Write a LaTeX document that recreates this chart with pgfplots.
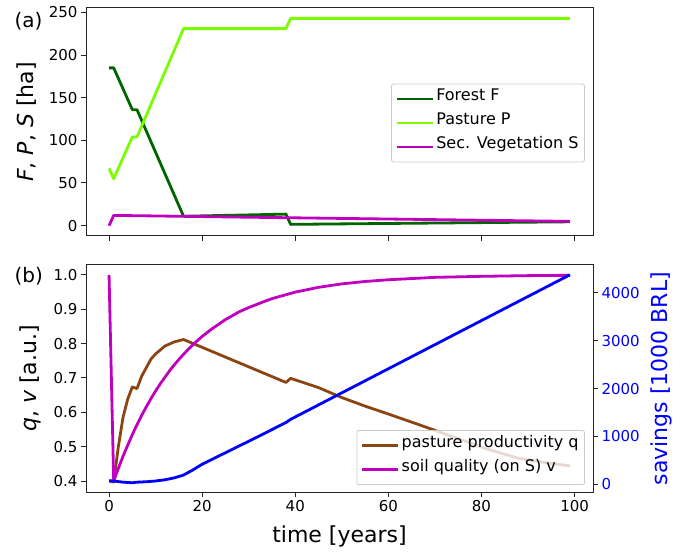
\documentclass[border=0pt]{standalone}
\usepackage{fontspec}
\setmainfont{DejaVu Sans}
\usepackage{pgfplots}
\pgfplotsset{compat=1.18}

\definecolor{forestF}{RGB}{0,100,0}
\definecolor{pastureP}{RGB}{124,252,0}
\definecolor{secveg}{RGB}{191,0,191}
\definecolor{qbrown}{RGB}{139,69,19}
\definecolor{savblue}{RGB}{0,0,255}
\definecolor{legframe}{RGB}{204,204,204}

\pgfplotsset{
  panel/.style={
    scale only axis, width=507pt,
    xmin=-4.95, xmax=103.95,
    tick align=outside, major tick length=5pt,
    axis line style={black!85, line width=1pt},
    tick style={black!85, line width=1pt},
    tick label style={font=\fontsize{15}{18}\selectfont},
    /pgf/number format/assume math mode=true,
    label style={font=\fontsize{22}{26}\selectfont},
    every axis plot/.append style={line width=2.8pt, line join=round},
    legend image code/.code={\draw[##1, line width=2.8pt] (0pt,0pt) -- (36pt,0pt);},
    legend cell align=left,
  },
  legbox/.style={
    draw=legframe, rounded corners=2pt, fill=white, fill opacity=0.8,
    text opacity=1, draw opacity=1, line width=0.8pt,
    font=\fontsize{16}{19}\selectfont,
    inner xsep=4pt, inner ysep=3pt, row sep=0pt,
    nodes={inner ysep=0pt, text height=14pt, text depth=10pt},
  },
}

\begin{document}
\begin{tikzpicture}
\useasboundingbox (0pt,0pt) rectangle (696pt,552pt);

% (a) land use
\begin{axis}[panel, at={(86pt,316pt)}, anchor=south west, height=228pt,
  ymin=-12.15, ymax=255.2,
  xtick={0,20,...,100}, xticklabels={},
  ytick={0,50,...,250},
  xtick pos=bottom, ytick pos=left,
  ylabel={\textit{F}, \textit{P}, \textit{S} [ha]},
  ylabel style={at={(axis description cs:-0.118,0.5)}, anchor=center},
  legend style={legbox, at={(0.984,0.496)}, anchor=east},
]
\addplot[forestF] coordinates {
(0,185) (1,185) (5,136) (6,136) (16,11) (38,13.5) (39,1.5) (99,4.5)
};
\addlegendentry{Forest F}
\addplot[pastureP] coordinates {
(0,67) (1,55) (5,104) (6,104) (16,231) (38,231) (39,243) (99,243)
};
\addlegendentry{Pasture P}
\addplot[secveg] coordinates {
(0,0) (1,12) (16,10.9) (38,9.3) (99,5)
};
\addlegendentry{Sec. Vegetation S}
\end{axis}

% (b) productivity and soil quality
\begin{axis}[panel, at={(86pt,60pt)}, anchor=south west, height=227pt,
  ymin=0.368, ymax=1.029,
  xtick={0,20,...,100},
  ytick={0.4,0.5,...,1.0},
  yticklabel style={/pgf/number format/.cd, fixed, precision=1, zerofill},
  xtick pos=bottom, ytick pos=left,
  xlabel={time [years]},
  xlabel style={at={(axis description cs:0.5,0)}, anchor=north, yshift=-30pt},
  ylabel={\textit{q}, \textit{v} [a.u.]},
  ylabel style={at={(axis description cs:-0.11,0.5)}, anchor=center},
  legend style={legbox, at={(0.984,0.031)}, anchor=south east},
]
\addplot[qbrown] coordinates {
(0,0.400) (1,0.397) (2,0.500) (3,0.585) (4,0.638) (5,0.674) (6,0.669)
(7,0.705) (8,0.730) (9,0.755) (10,0.770) (12,0.793) (14,0.805) (16,0.812)
(38,0.687) (39,0.699) (45,0.672) (50,0.643) (55,0.618) (60,0.595)
(67,0.562) (74,0.528) (81,0.494) (88,0.466) (94,0.453) (99,0.444)
};
\addlegendentry{pasture productivity q}
\addplot[secveg] coordinates {
(0,1.000) (1,0.400) (2,0.437) (3,0.472) (4,0.504) (5,0.535) (6,0.564)
(7,0.591) (8,0.616) (9,0.640) (10,0.662) (11,0.683) (12,0.702)
(13,0.721) (14,0.738) (15,0.754) (16,0.769) (17,0.783) (18,0.797)
(20,0.821) (22,0.842) (25,0.870) (28,0.893) (30,0.905) (33,0.921)
(35,0.931) (40,0.950) (45,0.964) (50,0.974) (55,0.981) (60,0.986)
(70,0.993) (80,0.996) (90,0.998) (99,0.999)
};
\addlegendentry{soil quality (on S) v}
\end{axis}

% savings on the right axis
\begin{axis}[panel, at={(86pt,60pt)}, anchor=south west, height=227pt,
  ymin=-160, ymax=4580,
  axis x line=none, axis y line*=right,
  ytick={0,1000,...,4000},
  yticklabel style={text=savblue, /pgf/number format/1000 sep={}},
  ylabel={savings [1000 BRL]},
  ylabel style={text=savblue, at={(axis description cs:1.135,0.5)}, anchor=center, rotate=0},
]
\addplot[savblue] coordinates {
(0,75) (1,70) (3,45) (5,33) (6,45) (8,54) (10,70) (12,95) (14,135)
(16,194) (18,300) (20,420) (25,660) (30,900) (38,1290) (39,1357) (99,4376)
};
\end{axis}

\node[anchor=west, font=\fontsize{20}{24}\selectfont] at (11pt,531pt) {(a)};
\node[anchor=west, font=\fontsize{20}{24}\selectfont] at (11pt,276pt) {(b)};
\end{tikzpicture}
\end{document}
